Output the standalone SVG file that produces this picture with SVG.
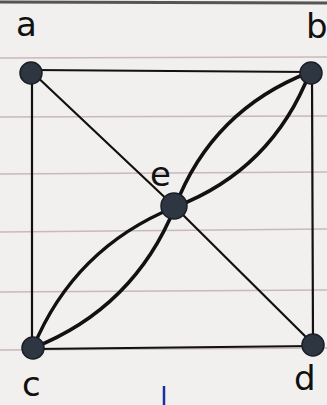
<svg xmlns="http://www.w3.org/2000/svg" width="327" height="405" viewBox="0 0 327 405">
<style>
.rule{stroke:#c9b8bc;stroke-width:1.5;fill:none}
.edge{stroke:#111;stroke-width:2.2;fill:none;stroke-linecap:round}
.curve{stroke:#111;stroke-width:3.5;fill:none;stroke-linecap:round}
.node{fill:#2e3642;stroke:#1a1e25;stroke-width:1.5}
.lbl{font-family:"DejaVu Sans",sans-serif;font-size:34px;fill:#111}
</style>
<rect width="327" height="405" fill="#f1f0ee"/>
<g id="paper">
<line x1="0" y1="2" x2="327" y2="3" stroke="#555" stroke-width="3"/>
<line class="rule" x1="0" y1="58" x2="327" y2="57"/>
<line class="rule" x1="0" y1="117" x2="327" y2="116"/>
<line class="rule" x1="0" y1="174" x2="327" y2="172"/>
<line class="rule" x1="0" y1="232" x2="327" y2="229"/>
<line class="rule" x1="0" y1="292" x2="327" y2="290"/>
<line class="rule" x1="0" y1="350" x2="327" y2="348"/>
</g>
<g id="connectors">
<line class="edge" x1="32" y1="70" x2="310" y2="72"/>
<line class="edge" x1="32" y1="72" x2="32" y2="346"/>
<line class="edge" x1="312" y1="74" x2="313" y2="343"/>
<line class="edge" x1="34" y1="349" x2="314" y2="346"/>
<line class="edge" x1="32" y1="72" x2="175" y2="207"/>
<line class="edge" x1="175" y1="207" x2="314" y2="345"/>
<path class="curve" d="M310,72 Q212,110 175,207"/>
<path class="curve" d="M310,72 Q272,170 175,207"/>
<path class="curve" d="M175,207 Q74,248 33,348"/>
<path class="curve" d="M175,207 Q134,308 33,348"/>
</g>
<g id="node-a"><circle class="node" cx="31" cy="73" r="11"/><text class="lbl" x="16" y="36">a</text></g>
<g id="node-b"><circle class="node" cx="311" cy="73" r="11"/><text class="lbl" x="306" y="38">b</text></g>
<g id="node-e"><circle class="node" cx="174" cy="206" r="13"/><text class="lbl" x="150" y="186">e</text></g>
<g id="node-c"><circle class="node" cx="33" cy="348" r="11"/><text class="lbl" x="22" y="396">c</text></g>
<g id="node-d"><circle class="node" cx="313" cy="345" r="11"/><text class="lbl" x="294" y="390">d</text></g>
<line x1="164" y1="386" x2="164" y2="405" stroke="#1a2fa0" stroke-width="2.5"/>
</svg>
